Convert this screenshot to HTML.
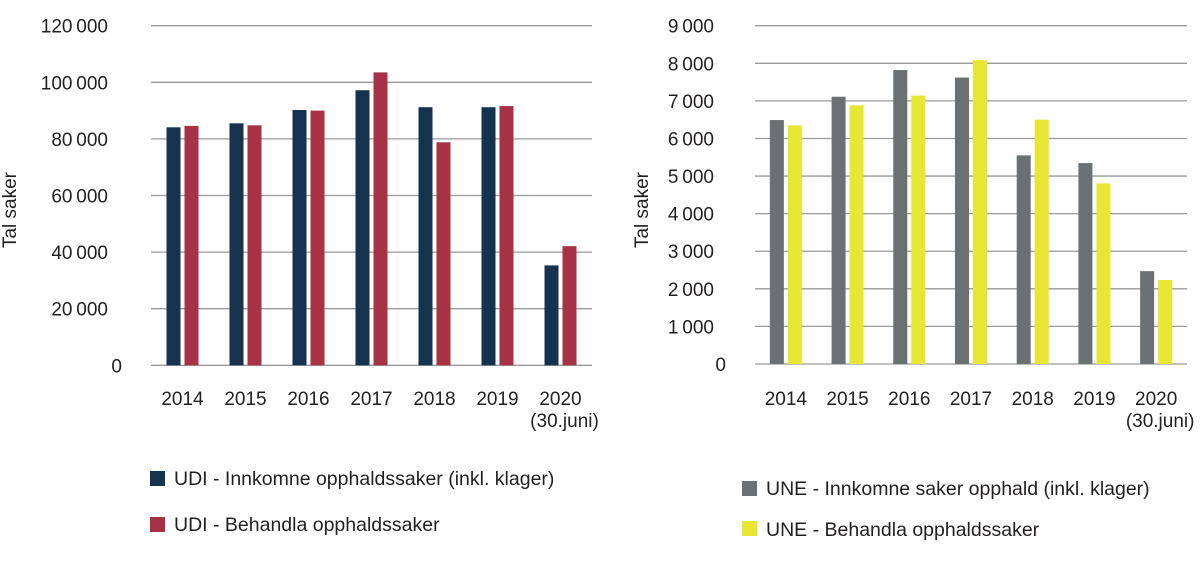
<!DOCTYPE html>
<html><head><meta charset="utf-8"><style>
html,body{margin:0;padding:0;background:#fff;}
svg text{font-family:"Liberation Sans",sans-serif;font-size:19px;fill:#231f20;}
svg text.leg{font-size:19.5px;}
</style></head><body>
<svg id="c" width="1200" height="558" xmlns="http://www.w3.org/2000/svg">
<g id="left"></g>
<g id="right"></g>
<text x="16" y="210" text-anchor="middle" transform="rotate(-90 16 210)">Tal saker</text>
<text x="648" y="210" text-anchor="middle" transform="rotate(-90 648 210)">Tal saker</text>
<rect x="150" y="471" width="15" height="15" fill="#15324f"/>
<text class="leg" x="174" y="485">UDI - Innkomne opphaldssaker (inkl. klager)</text>
<rect x="150" y="517" width="15" height="15" fill="#a73246"/>
<text class="leg" x="174" y="531">UDI - Behandla opphaldssaker</text>
<rect x="742" y="481" width="15" height="15" fill="#6b7072"/>
<text class="leg" x="766" y="495">UNE - Innkomne saker opphald (inkl. klager)</text>
<rect x="742" y="521" width="15" height="15" fill="#e6e633"/>
<text class="leg" x="766" y="536">UNE - Behandla opphaldssaker</text>
</svg>
<script>
const categories = ["2014","2015","2016","2017","2018","2019","2020"];
const udiInnkomne = [84100,85500,90200,97200,91200,91200,35300];
const udiBehandla = [84600,84800,90000,103500,78800,91600,42100];
const leftTicks = [0,20000,40000,60000,80000,100000,120000];
const uneInnkomne = [6490,7110,7820,7620,5550,5345,2470];
const uneBehandla = [6350,6880,7140,8085,6500,4805,2235];
const rightTicks = [0,1000,2000,3000,4000,5000,6000,7000,8000,9000];

const NS="http://www.w3.org/2000/svg";
function mk(tag,attrs,parent){const e=document.createElementNS(NS,tag);for(const k in attrs)e.setAttribute(k,attrs[k]);parent.appendChild(e);return e;}
function fmt(v){return String(v).replace(/\B(?=(\d{3})+(?!\d))/g,"\u2009");}
function draw(g,cfg){
  const y=v=>cfg.y0-(v/cfg.max)*(cfg.y0-cfg.yTop);
  const bw=(cfg.x1-cfg.x0)/categories.length;
  cfg.ticks.forEach((t,i)=>{
    const l=mk("line",{x1:cfg.x0,x2:cfg.x1,y1:y(t),y2:y(t),stroke:"#9a9a9a","stroke-width":1.3},g);
    
    
    const tx=mk("text",{x:t===0?cfg.zeroX:cfg.labX,y:y(t)+7,"text-anchor":"end"},g);
    tx.textContent=fmt(t);
    
    
  });
  categories.forEach((c,i)=>{
    const cx=cfg.x0+bw*(i+0.5);
    const a=mk("rect",{x:cx-cfg.w-2,y:y(cfg.s1[i]),width:cfg.w,height:cfg.y0-y(cfg.s1[i]),fill:cfg.c1},g);
    
    
    const b=mk("rect",{x:cx+2,y:y(cfg.s2[i]),width:cfg.w,height:cfg.y0-y(cfg.s2[i]),fill:cfg.c2},g);
    
    
    const t=mk("text",{x:cx,y:405,"text-anchor":"middle"},g);
    t.textContent=c;
    
    
    if(c==="2020"){
      const t2=mk("text",{x:cx+4,y:427,"text-anchor":"middle"},g);
      t2.textContent="(30.juni)";
      
      
    }
  });
}
draw(document.getElementById("left"),{x0:151,x1:592,y0:365.3,yTop:25.7,max:120000,ticks:leftTicks,labX:108,zeroX:122,s1:udiInnkomne,s2:udiBehandla,c1:"#15324f",c2:"#a73246",w:14,n1:"udi-innkomne",n2:"udi-behandla"});
draw(document.getElementById("right"),{x0:755,x1:1187,y0:364,yTop:25.7,max:9000,ticks:rightTicks,labX:714,zeroX:726,s1:uneInnkomne,s2:uneBehandla,c1:"#6b7072",c2:"#e6e633",w:14,n1:"une-innkomne",n2:"une-behandla"});
</script>
</body></html>
